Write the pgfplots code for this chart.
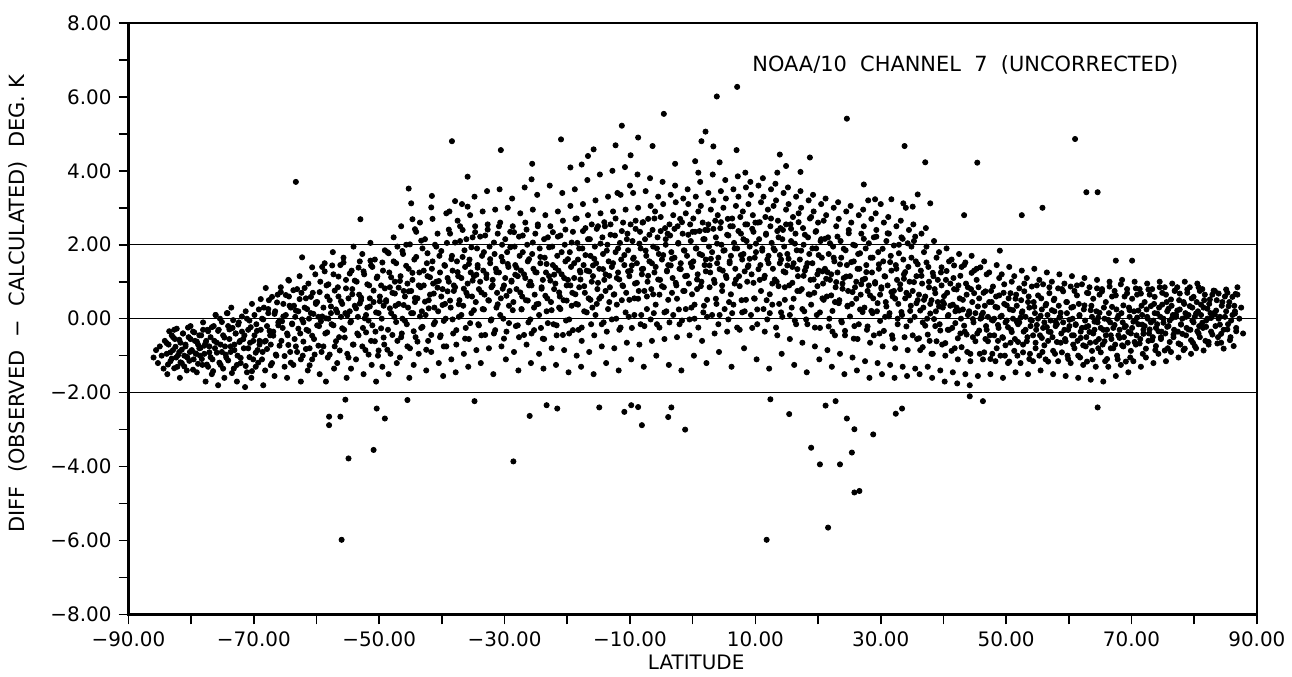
\documentclass[border=0pt]{standalone}
\usepackage{fontspec}
\setmainfont{DejaVu Sans}
\usepackage{pgfplots}
\pgfplotsset{compat=1.18}
\begin{document}
\begin{tikzpicture}
\begin{axis}[
    scale only axis,
    width=566.5pt, height=297pt,
    xmin=-90, xmax=90, ymin=-8, ymax=8,
    xtick={-90,-70,...,90},
    xticklabels={−90.00,−70.00,−50.00,−30.00,−10.00,10.00,30.00,50.00,70.00,90.00},
    minor xtick={-80,-60,...,80},
    ytick={-8,-6,...,8},
    yticklabels={−8.00,−6.00,−4.00,−2.00,0.00,2.00,4.00,6.00,8.00},
    minor ytick={-7,-5,...,7},
    tick align=outside, tick pos=left,
    major tick length=5pt, minor tick length=5pt,
    every tick/.style={black, line width=0.8pt},
    axis line style={line width=1.2pt},
    tick label style={font=\fontsize{10}{12}\selectfont},
]
\addplot[black, line width=0.6pt] coordinates {(-90,2) (90,2)};
\addplot[black, line width=0.6pt] coordinates {(-90,0) (90,0)};
\addplot[black, line width=0.6pt] coordinates {(-90,-2) (90,-2)};
% main cloud, first pass
\addplot[only marks, mark=*, mark size=1.3pt, black] coordinates {
(-86.0,-1.05) (-85.6,-0.85) (-85.3,-1.2)
(-85.0,-0.75) (-84.7,-1.0) (-84.4,-1.35) (-84.2,-0.6)
(-83.9,-0.95) (-83.6,-0.7) (-83.3,-1.15) (-83.1,-0.45) (-83.8,-1.5)
(-82.9,-0.85) (-82.6,-0.55) (-82.4,-1.05) (-82.2,-1.3) (-82.7,-0.3)
(-81.9,-0.9) (-81.7,-0.65) (-81.5,-1.2) (-81.3,-0.4) (-81.1,-1.0) (-81.8,-1.6)
(-80.9,-0.75) (-80.6,-1.05) (-80.4,-0.5) (-80.2,-0.9) (-80.7,-1.4) (-80.1,-0.2)
(-79.9,-0.85) (-79.6,-1.1) (-79.4,-0.6) (-79.2,-0.95) (-79.7,-0.35) (-79.1,-1.45)
(-78.9,-0.7) (-78.6,-1.0) (-78.4,-0.45) (-78.2,-1.25) (-78.7,-0.8) (-78.1,-0.1)
(-77.9,-0.95) (-77.6,-0.6) (-77.3,-1.3) (-77.1,-0.75) (-77.7,-1.7) (-77.4,-0.3)
(-76.9,-0.5) (-76.6,-1.1) (-76.4,-0.2) (-76.2,-0.8) (-76.7,-1.5) (-76.1,0.1)
(-75.9,-0.65) (-75.6,-0.3) (-75.3,-1.25) (-75.1,-0.9) (-75.7,-1.8) (-75.4,0.0)
(-74.9,-0.45) (-74.6,-0.75) (-74.4,-1.05) (-74.2,0.15) (-74.7,-1.6) (-74.1,-0.2)
(-73.9,-0.55) (-73.7,-0.9) (-73.4,-0.25) (-73.2,-1.35) (-73.6,0.3) (-73.1,-0.7)
(-72.9,-0.4) (-72.6,-1.0) (-72.4,-0.1) (-72.2,-0.6) (-72.7,-1.7) (-72.1,-1.2)
(-71.9,-0.35) (-71.6,-0.8) (-71.3,0.2) (-71.1,-1.45) (-71.7,-0.55) (-71.4,-1.85)
(-70.9,-0.3) (-70.6,-0.65) (-70.3,0.4) (-70.1,-1.1) (-70.7,-0.05) (-70.4,-1.6)
(-69.9,-0.45) (-69.6,-0.15) (-69.4,-0.85) (-69.2,0.25) (-69.7,-1.3) (-69.1,-0.6)
(-68.9,-0.3) (-68.6,-0.9) (-68.4,0.3) (-68.2,-1.4) (-68.7,0.0) (-68.1,-0.6) (-68.5,-1.8)
(-67.9,-0.2) (-67.6,0.5) (-67.3,-0.7) (-67.1,-1.2) (-67.7,0.15) (-67.4,-0.45)
(-66.9,-0.35) (-66.6,0.2) (-66.4,-1.0) (-66.2,0.65) (-66.7,-1.55) (-66.1,-0.1)
(-65.9,-0.05) (-65.6,-0.6) (-65.3,0.4) (-65.1,-1.3) (-65.7,0.85) (-65.4,-0.25)
(-64.9,0.1) (-64.6,-0.45) (-64.4,0.6) (-64.2,-0.9) (-64.7,-1.6) (-64.1,0.3) (-64.5,1.05)
(-63.9,-0.15) (-63.6,0.35) (-63.3,-0.75) (-63.1,0.8) (-63.7,-1.25) (-63.4,0.05)
(-62.9,0.2) (-62.6,-0.4) (-62.4,0.7) (-62.2,-1.0) (-62.7,1.15) (-62.1,-0.1) (-62.5,-1.7)
(-61.9,0.3) (-61.6,-0.3) (-61.3,0.95) (-61.1,-0.8) (-61.7,0.55) (-61.4,-1.4) (-61.2,0.0)
(-60.9,0.15) (-60.6,0.7) (-60.4,-0.55) (-60.2,1.2) (-60.7,-1.1) (-60.1,0.4)
(-59.9,0.45) (-59.6,-0.2) (-59.4,1.0) (-59.2,-0.9) (-59.7,0.05) (-59.1,1.4) (-59.5,-1.5)
(-58.9,0.3) (-58.6,-0.4) (-58.4,0.9) (-58.2,-1.05) (-58.7,1.5) (-58.1,0.0) (-58.5,-1.7) (-58.3,0.6)
(-57.9,0.5) (-57.6,-0.15) (-57.3,1.2) (-57.1,-0.75) (-57.7,0.15) (-57.4,1.8) (-57.2,-1.35)
(-56.9,0.25) (-56.6,0.85) (-56.4,-0.5) (-56.2,1.45) (-56.7,-1.2) (-56.1,0.05) (-56.5,0.6)
(-55.9,0.4) (-55.6,-0.3) (-55.3,1.05) (-55.1,-0.95) (-55.7,1.65) (-55.4,0.15) (-55.2,-1.6)
(-54.9,0.55) (-54.6,-0.1) (-54.4,1.3) (-54.2,-0.7) (-54.7,0.2) (-54.1,1.95) (-54.5,-1.35) (-54.3,0.8)
(-53.9,0.35) (-53.6,1.0) (-53.3,-0.45) (-53.1,1.55) (-53.7,-1.1) (-53.4,0.05) (-53.2,0.65)
(-52.9,0.5) (-52.6,-0.25) (-52.4,1.2) (-52.2,-0.85) (-52.7,1.75) (-52.1,0.1) (-52.5,-1.5)
(-51.9,0.3) (-51.6,0.9) (-51.3,-0.6) (-51.1,1.4) (-51.7,-0.05) (-51.4,2.05) (-51.2,-1.25) (-51.5,0.55)
(-50.9,0.45) (-50.6,-0.35) (-50.4,1.1) (-50.2,-1.0) (-50.7,1.6) (-50.1,0.15) (-50.5,-1.7)
(-49.9,0.6) (-49.6,0.0) (-49.4,1.3) (-49.2,-0.7) (-49.7,0.9) (-49.1,1.85) (-49.5,-1.3) (-49.3,0.35)
(-48.9,0.5) (-48.6,-0.3) (-48.4,1.25) (-48.2,-0.95) (-48.7,1.8) (-48.1,0.15) (-48.5,-1.5) (-48.3,0.85)
(-47.9,0.7) (-47.6,0.05) (-47.3,1.5) (-47.1,-0.6) (-47.7,2.2) (-47.4,0.35) (-47.2,-1.2) (-47.5,1.0)
(-46.9,0.4) (-46.6,1.15) (-46.4,-0.4) (-46.2,1.75) (-46.7,-1.05) (-46.1,0.75) (-46.5,2.5) (-46.3,0.0)
(-45.9,0.6) (-45.6,-0.15) (-45.3,1.35) (-45.1,-0.8) (-45.7,2.0) (-45.4,0.3) (-45.2,-1.6) (-45.5,0.95)
(-44.9,0.75) (-44.6,0.15) (-44.4,1.6) (-44.2,-0.5) (-44.7,1.05) (-44.1,2.35) (-44.5,-1.25) (-44.3,0.45)
(-43.9,0.55) (-43.6,1.25) (-43.3,-0.25) (-43.1,1.9) (-43.7,-0.95) (-43.4,0.85) (-43.2,0.2) (-43.5,2.6)
(-42.9,0.9) (-42.6,0.1) (-42.4,1.5) (-42.2,-0.6) (-42.7,2.15) (-42.1,0.5) (-42.5,-1.4) (-42.3,1.15)
(-41.9,0.65) (-41.6,1.35) (-41.3,-0.15) (-41.1,2.0) (-41.7,-0.9) (-41.4,0.95) (-41.2,0.3) (-41.5,2.7)
(-40.9,1.0) (-40.6,0.2) (-40.4,1.7) (-40.2,-0.45) (-40.7,2.3) (-40.1,0.6) (-40.5,-1.2) (-40.3,1.25)
(-39.9,0.8) (-39.6,1.45) (-39.4,0.0) (-39.2,2.05) (-39.7,-0.75) (-39.1,1.1) (-39.5,0.4) (-39.3,2.85) (-39.8,-1.55)
(-38.9,1.0) (-38.6,0.3) (-38.4,1.7) (-38.2,-0.4) (-38.7,2.3) (-38.1,0.75) (-38.5,-1.1) (-38.3,1.3) (-38.8,2.9)
(-37.9,0.85) (-37.6,1.55) (-37.3,0.05) (-37.1,2.1) (-37.7,-0.7) (-37.4,1.15) (-37.2,0.5) (-37.5,2.65) (-37.8,-1.45)
(-36.9,1.1) (-36.6,0.35) (-36.4,1.85) (-36.2,-0.25) (-36.7,2.4) (-36.1,0.7) (-36.5,-0.95) (-36.3,1.4) (-36.8,3.1)
(-35.9,0.95) (-35.6,1.6) (-35.3,0.15) (-35.1,2.2) (-35.7,-0.55) (-35.4,1.25) (-35.2,0.6) (-35.5,2.8) (-35.8,-1.3)
(-34.9,1.15) (-34.6,0.45) (-34.4,1.9) (-34.2,-0.15) (-34.7,2.5) (-34.1,0.8) (-34.5,-0.85) (-34.3,1.45) (-34.8,3.3)
(-33.9,1.0) (-33.6,1.7) (-33.3,0.25) (-33.1,2.25) (-33.7,-0.45) (-33.4,1.3) (-33.2,0.65) (-33.5,2.9) (-33.8,-1.2)
(-32.9,1.2) (-32.6,0.5) (-32.4,1.95) (-32.2,-0.05) (-32.7,2.55) (-32.1,0.85) (-32.5,-0.8) (-32.3,1.5) (-32.8,3.45)
(-31.9,1.05) (-31.6,1.75) (-31.3,0.3) (-31.1,2.3) (-31.7,-0.4) (-31.4,1.35) (-31.2,0.7) (-31.5,2.95) (-31.8,-1.5)
(-30.9,1.25) (-30.6,0.55) (-30.4,2.0) (-30.2,0.0) (-30.7,2.6) (-30.1,0.9) (-30.5,-0.75) (-30.3,1.55) (-30.8,3.5)
(-29.9,1.1) (-29.6,1.8) (-29.3,0.35) (-29.1,2.35) (-29.7,-0.35) (-29.4,1.4) (-29.2,0.75) (-29.5,3.0) (-29.8,-1.1)
(-28.9,1.0) (-28.6,0.45) (-28.4,1.95) (-28.2,-0.2) (-28.7,2.5) (-28.1,0.8) (-28.5,-0.9) (-28.3,1.45) (-28.8,3.25)
(-27.9,1.15) (-27.6,1.7) (-27.3,0.25) (-27.1,2.25) (-27.7,-0.5) (-27.4,1.3) (-27.2,0.6) (-27.5,2.85) (-27.8,-1.4)
(-26.9,1.2) (-26.6,0.5) (-26.4,2.0) (-26.2,-0.1) (-26.7,2.6) (-26.1,0.9) (-26.5,-0.7) (-26.3,1.55) (-26.8,3.55)
(-25.9,1.0) (-25.6,1.75) (-25.3,0.3) (-25.1,2.3) (-25.7,-0.4) (-25.4,1.35) (-25.2,0.65) (-25.5,2.95) (-25.8,-1.2)
(-24.9,1.25) (-24.6,0.4) (-24.4,1.9) (-24.2,-0.25) (-24.7,2.55) (-24.1,0.85) (-24.5,-0.95) (-24.3,1.5) (-24.8,3.35)
(-23.9,1.05) (-23.6,1.65) (-23.3,0.2) (-23.1,2.2) (-23.7,-0.55) (-23.4,1.25) (-23.2,0.55) (-23.5,2.8) (-23.8,-1.35)
(-22.9,1.15) (-22.6,0.45) (-22.4,1.95) (-22.2,-0.15) (-22.7,2.5) (-22.1,0.8) (-22.5,-0.8) (-22.3,1.45) (-22.8,3.6)
(-21.9,0.95) (-21.6,1.7) (-21.3,0.3) (-21.1,2.25) (-21.7,-0.45) (-21.4,1.3) (-21.2,0.6) (-21.5,2.9) (-21.8,-1.25)
(-20.9,1.2) (-20.6,0.5) (-20.4,2.0) (-20.2,-0.05) (-20.7,2.65) (-20.1,0.9) (-20.5,-0.85) (-20.3,1.55) (-20.8,3.4)
(-19.9,1.05) (-19.6,1.8) (-19.3,0.35) (-19.1,2.35) (-19.7,-0.4) (-19.4,1.4) (-19.2,0.7) (-19.5,3.05) (-19.8,-1.45)
(-18.9,1.1) (-18.6,0.4) (-18.4,2.05) (-18.2,-0.3) (-18.7,2.7) (-18.1,0.85) (-18.5,-1.0) (-18.3,1.6) (-18.8,3.5) (-18.0,1.3)
(-17.9,1.25) (-17.6,1.9) (-17.3,0.2) (-17.1,2.45) (-17.7,-0.6) (-17.4,1.45) (-17.2,0.7) (-17.5,3.1) (-17.8,-1.3)
(-16.9,1.3) (-16.6,0.55) (-16.4,2.15) (-16.2,-0.15) (-16.7,2.8) (-16.1,1.0) (-16.5,-0.9) (-16.3,1.7) (-16.8,3.75) (-16.0,0.3)
(-15.9,1.15) (-15.6,1.95) (-15.3,0.4) (-15.1,2.5) (-15.7,-0.45) (-15.4,1.5) (-15.2,0.8) (-15.5,3.2) (-15.8,-1.5)
(-14.9,1.35) (-14.6,0.6) (-14.4,2.2) (-14.2,-0.1) (-14.7,2.85) (-14.1,1.05) (-14.5,-0.75) (-14.3,1.75) (-14.8,3.9) (-14.0,2.5)
(-13.9,1.2) (-13.6,2.0) (-13.3,0.45) (-13.1,2.55) (-13.7,-0.35) (-13.4,1.55) (-13.2,0.85) (-13.5,3.3) (-13.8,-1.2)
(-12.9,1.4) (-12.6,0.65) (-12.4,2.25) (-12.2,0.0) (-12.7,2.9) (-12.1,1.1) (-12.5,-0.8) (-12.3,1.8) (-12.8,4.0) (-12.0,3.4)
(-11.9,1.25) (-11.6,2.05) (-11.3,0.5) (-11.1,2.6) (-11.7,-0.3) (-11.4,1.6) (-11.2,0.9) (-11.5,3.35) (-11.8,-1.4)
(-10.9,1.45) (-10.6,0.7) (-10.4,2.3) (-10.2,0.05) (-10.7,2.95) (-10.1,1.15) (-10.5,-0.65) (-10.3,1.85) (-10.8,4.1) (-10.0,3.6)
(-9.9,1.3) (-9.6,2.1) (-9.3,0.55) (-9.1,2.65) (-9.7,-0.25) (-9.4,1.65) (-9.2,0.95) (-9.5,3.4) (-9.8,-1.1)
(-8.9,1.5) (-8.6,0.75) (-8.4,2.35) (-8.2,0.1) (-8.7,3.0) (-8.1,1.2) (-8.5,-0.7) (-8.3,1.9) (-8.8,3.9) (-8.0,2.6)
(-7.9,1.35) (-7.6,2.15) (-7.3,0.6) (-7.1,2.7) (-7.7,-0.2) (-7.4,1.7) (-7.2,1.0) (-7.5,3.45) (-7.8,-1.3)
(-6.9,1.55) (-6.6,0.8) (-6.4,2.4) (-6.2,0.15) (-6.7,3.05) (-6.1,1.25) (-6.5,-0.6) (-6.3,1.95) (-6.8,3.8) (-6.0,2.9)
(-5.9,1.4) (-5.6,2.2) (-5.3,0.65) (-5.1,2.75) (-5.7,-0.15) (-5.4,1.75) (-5.2,1.05) (-5.5,3.3) (-5.8,-1.0)
(-4.9,1.6) (-4.6,0.85) (-4.4,2.45) (-4.2,0.2) (-4.7,3.1) (-4.1,1.3) (-4.5,-0.55) (-4.3,2.0) (-4.8,3.7) (-4.0,2.3)
(-3.9,1.45) (-3.6,2.25) (-3.3,0.7) (-3.1,2.8) (-3.7,-0.1) (-3.4,1.8) (-3.2,1.1) (-3.5,3.35) (-3.8,-1.25)
(-2.9,1.65) (-2.6,0.9) (-2.4,2.5) (-2.2,0.25) (-2.7,3.15) (-2.1,1.35) (-2.5,-0.5) (-2.3,2.05) (-2.8,3.6) (-2.0,2.7)
(-1.9,1.5) (-1.6,2.3) (-1.3,0.75) (-1.1,2.85) (-1.7,-0.05) (-1.4,1.85) (-1.2,1.15) (-1.5,3.25) (-1.8,-1.4)
(-0.9,1.7) (-0.6,0.95) (-0.4,2.55) (-0.2,0.3) (-0.7,3.1) (-0.1,1.4) (-0.5,-0.45) (-0.3,2.1) (-0.8,3.5) (0.0,2.35)
(0.1,1.55) (0.4,2.35) (0.7,0.8) (0.9,2.9) (0.3,0.0) (0.6,1.9) (0.8,1.2) (0.5,3.3) (0.2,-1.0)
(1.1,1.75) (1.4,1.0) (1.6,2.6) (1.8,0.35) (1.3,3.05) (1.9,1.45) (1.5,-0.6) (1.7,2.15) (1.2,3.7) (2.0,2.4)
(2.1,1.6) (2.4,2.4) (2.7,0.85) (2.9,2.95) (2.3,0.05) (2.6,1.95) (2.8,1.25) (2.5,3.4) (2.2,-1.2)
(3.1,1.8) (3.4,1.05) (3.6,2.65) (3.8,0.4) (3.3,3.2) (3.9,1.5) (3.5,-0.4) (3.7,2.2) (3.2,3.9) (4.0,2.8)
(4.1,1.65) (4.4,2.45) (4.7,0.9) (4.9,3.0) (4.3,0.1) (4.6,2.0) (4.8,1.3) (4.5,3.45) (4.2,-0.9)
(5.1,1.85) (5.4,1.1) (5.6,2.7) (5.8,0.45) (5.3,3.25) (5.9,1.55) (5.5,-0.35) (5.7,2.25) (5.2,3.75) (6.0,2.5)
(6.1,1.7) (6.4,2.5) (6.7,0.95) (6.9,3.05) (6.3,0.15) (6.6,2.05) (6.8,1.35) (6.5,3.5) (6.2,-1.3)
(7.1,1.9) (7.4,1.15) (7.6,2.75) (7.8,0.5) (7.3,3.3) (7.9,1.6) (7.5,-0.3) (7.7,2.3) (7.2,3.85) (8.0,2.9)
(8.1,1.75) (8.4,2.55) (8.7,1.0) (8.9,3.1) (8.3,0.2) (8.6,2.1) (8.8,1.4) (8.5,3.55) (8.2,-0.8)
(9.1,1.95) (9.4,1.2) (9.6,2.8) (9.8,0.55) (9.3,3.35) (9.9,1.65) (9.5,-0.25) (9.7,2.35) (9.2,3.7) (10.0,2.6)
(10.1,1.8) (10.4,2.6) (10.7,1.05) (10.9,3.15) (10.3,0.25) (10.6,2.15) (10.8,1.45) (10.5,3.6) (10.2,-1.1)
(11.1,1.9) (11.4,1.1) (11.6,2.75) (11.8,0.5) (11.3,3.3) (11.9,1.6) (11.5,-0.35) (11.7,2.3) (11.2,3.8) (12.0,2.95)
(12.1,1.7) (12.4,2.5) (12.7,0.95) (12.9,3.05) (12.3,0.15) (12.6,2.05) (12.8,1.35) (12.5,3.5) (12.2,-1.35)
(13.1,1.85) (13.4,1.0) (13.6,2.65) (13.8,0.4) (13.3,3.2) (13.9,1.5) (13.5,-0.45) (13.7,2.2) (13.2,3.65) (14.0,2.45)
(14.1,1.6) (14.4,2.4) (14.7,0.85) (14.9,2.95) (14.3,0.05) (14.6,1.95) (14.8,1.25) (14.5,3.4) (14.2,-0.95)
(15.1,1.75) (15.4,0.9) (15.6,2.55) (15.8,0.3) (15.3,3.1) (15.9,1.4) (15.5,-0.55) (15.7,2.1) (15.2,3.55) (16.0,2.75)
(16.1,1.5) (16.4,2.3) (16.7,0.75) (16.9,2.85) (16.3,-0.05) (16.6,1.85) (16.8,1.15) (16.5,3.3) (16.2,-1.25)
(17.1,1.6) (17.4,0.8) (17.6,2.45) (17.8,0.2) (17.3,3.0) (17.9,1.3) (17.5,-0.65) (17.7,2.0) (17.2,3.45)
(18.1,1.4) (18.4,2.2) (18.7,0.65) (18.9,2.75) (18.3,-0.15) (18.6,1.75) (18.8,1.05) (18.5,3.2) (18.2,-1.45)
(19.1,1.5) (19.4,0.7) (19.6,2.35) (19.8,0.1) (19.3,2.9) (19.9,1.2) (19.5,-0.75) (19.7,1.9) (19.2,3.35) (20.0,2.6)
(20.1,1.3) (20.4,2.1) (20.7,0.55) (20.9,2.65) (20.3,-0.25) (20.6,1.65) (20.8,0.95) (20.5,3.1) (20.2,-1.1)
(21.1,1.35) (21.4,0.6) (21.6,2.2) (21.8,0.0) (21.3,2.8) (21.9,1.05) (21.5,-0.85) (21.7,1.75) (21.2,3.25)
(22.1,1.2) (22.4,1.95) (22.7,0.45) (22.9,2.5) (22.3,-0.35) (22.6,1.55) (22.8,0.85) (22.5,3.0) (22.2,-1.3)
(23.1,1.25) (23.4,0.5) (23.6,2.1) (23.8,-0.1) (23.3,2.7) (23.9,0.95) (23.5,-0.95) (23.7,1.65) (23.2,3.15)
(24.1,1.1) (24.4,1.85) (24.7,0.35) (24.9,2.4) (24.3,-0.45) (24.6,1.45) (24.8,0.75) (24.5,2.9) (24.2,-1.5)
(25.1,1.15) (25.4,0.4) (25.6,2.0) (25.8,-0.2) (25.3,2.6) (25.9,0.85) (25.5,-1.05) (25.7,1.55) (25.2,3.05)
(26.1,1.0) (26.4,1.75) (26.7,0.25) (26.9,2.3) (26.3,-0.55) (26.6,1.35) (26.8,0.65) (26.5,2.8) (26.2,-1.4)
(27.1,1.05) (27.4,0.3) (27.6,1.9) (27.8,-0.3) (27.3,2.5) (27.9,0.75) (27.5,-1.15) (27.7,1.45) (27.2,2.95) (28.0,3.2)
(28.1,0.9) (28.4,1.65) (28.7,0.15) (28.9,2.2) (28.3,-0.65) (28.6,1.25) (28.8,0.55) (28.5,2.7) (28.2,-1.6)
(29.1,0.95) (29.4,0.2) (29.6,1.8) (29.8,-0.4) (29.3,2.4) (29.9,0.65) (29.5,-1.2) (29.7,1.35) (29.2,2.85) (30.0,3.1)
(30.1,0.85) (30.4,1.55) (30.7,0.05) (30.9,2.1) (30.3,-0.75) (30.6,1.15) (30.8,0.45) (30.5,2.6) (30.2,-1.5)
(31.1,0.9) (31.4,0.15) (31.6,1.7) (31.8,-0.45) (31.3,2.3) (31.9,0.6) (31.5,-1.25) (31.7,1.3) (31.2,2.75)
(32.1,0.75) (32.4,1.45) (32.7,0.0) (32.9,2.0) (32.3,-0.8) (32.6,1.05) (32.8,0.4) (32.5,2.5) (32.2,-1.6)
(33.1,0.8) (33.4,0.1) (33.6,1.6) (33.8,-0.5) (33.3,2.2) (33.9,0.55) (33.5,-1.3) (33.7,1.2) (33.2,2.65) (34.0,3.0)
(34.1,0.7) (34.4,1.4) (34.7,-0.05) (34.9,1.95) (34.3,-0.85) (34.6,1.0) (34.8,0.35) (34.5,2.4) (34.2,-1.55)
(35.1,0.75) (35.4,0.05) (35.6,1.55) (35.8,-0.55) (35.3,2.1) (35.9,0.5) (35.5,-1.35) (35.7,1.15) (35.2,2.55)
(36.1,0.65) (36.4,1.3) (36.7,-0.1) (36.9,1.8) (36.3,-0.85) (36.6,0.95) (36.8,0.3) (36.5,2.3) (36.2,-1.5)
(37.1,0.6) (37.4,0.0) (37.6,1.4) (37.8,-0.6) (37.3,1.95) (37.9,0.4) (37.5,-1.3) (37.7,1.0) (37.2,2.45)
(38.1,0.5) (38.4,1.15) (38.7,-0.2) (38.9,1.65) (38.3,-0.95) (38.6,0.8) (38.8,0.2) (38.5,2.1) (38.2,-1.6)
(39.1,0.45) (39.4,-0.15) (39.6,1.25) (39.8,-0.7) (39.3,1.8) (39.9,0.3) (39.5,-1.4) (39.7,0.9)
(40.1,0.4) (40.4,1.05) (40.7,-0.3) (40.9,1.55) (40.3,-1.0) (40.6,0.7) (40.8,0.1) (40.5,1.9) (40.2,-1.7)
(41.1,0.35) (41.4,-0.25) (41.6,1.1) (41.8,-0.8) (41.3,1.6) (41.9,0.2) (41.5,-1.45) (41.7,0.8)
(42.1,0.3) (42.4,0.9) (42.7,-0.4) (42.9,1.4) (42.3,-1.1) (42.6,0.55) (42.8,0.0) (42.5,1.75) (42.2,-1.75)
(43.1,0.25) (43.4,-0.35) (43.6,0.95) (43.8,-0.9) (43.3,1.45) (43.9,0.1) (43.5,-1.5) (43.7,0.65)
(44.1,0.2) (44.4,0.8) (44.7,-0.5) (44.9,1.3) (44.3,-1.15) (44.6,0.45) (44.8,-0.1) (44.5,1.7) (44.2,-1.8)
(45.1,0.15) (45.4,-0.4) (45.6,0.85) (45.8,-0.95) (45.3,1.35) (45.9,0.0) (45.5,-1.55) (45.7,0.55)
(46.1,0.1) (46.4,0.7) (46.7,-0.55) (46.9,1.2) (46.3,-1.1) (46.6,0.35) (46.8,-0.2) (46.5,1.55)
(47.1,0.05) (47.4,-0.45) (47.6,0.75) (47.8,-0.95) (47.3,1.25) (47.9,-0.05) (47.5,-1.5) (47.7,0.45)
(48.1,0.0) (48.4,0.6) (48.7,-0.6) (48.9,1.1) (48.3,-1.15) (48.6,0.3) (48.8,-0.25) (48.5,1.45)
(49.1,0.05) (49.4,-0.5) (49.6,0.7) (49.8,-1.0) (49.3,1.2) (49.9,-0.1) (49.5,-1.6) (49.7,0.4)
(50.1,-0.05) (50.4,0.55) (50.7,-0.65) (50.9,1.0) (50.3,-1.2) (50.6,0.25) (50.8,-0.3) (50.5,1.4)
(51.1,0.0) (51.4,-0.55) (51.6,0.65) (51.8,-1.0) (51.3,1.15) (51.9,-0.15) (51.5,-1.45) (51.7,0.35)
(52.1,-0.1) (52.4,0.5) (52.7,-0.7) (52.9,0.95) (52.3,-1.2) (52.6,0.2) (52.8,-0.35) (52.5,1.3)
(53.1,0.05) (53.4,-0.5) (53.6,0.6) (53.8,-0.95) (53.3,1.1) (53.9,-0.2) (53.5,-1.5) (53.7,0.3)
(54.1,-0.05) (54.4,0.45) (54.7,-0.65) (54.9,0.9) (54.3,-1.15) (54.6,0.15) (54.8,-0.3) (54.5,1.35)
(55.1,0.0) (55.4,-0.45) (55.6,0.55) (55.8,-0.9) (55.3,1.05) (55.9,-0.25) (55.5,-1.4) (55.7,0.25)
(56.1,-0.1) (56.4,0.4) (56.7,-0.6) (56.9,0.85) (56.3,-1.1) (56.6,0.1) (56.8,-0.35) (56.5,1.25)
(57.1,-0.05) (57.4,-0.5) (57.6,0.5) (57.8,-0.95) (57.3,1.0) (57.9,-0.2) (57.5,-1.5) (57.7,0.2)
(58.1,-0.15) (58.4,0.35) (58.7,-0.65) (58.9,0.8) (58.3,-1.15) (58.6,0.05) (58.8,-0.4) (58.5,1.2)
(59.1,-0.1) (59.4,-0.55) (59.6,0.45) (59.8,-1.0) (59.3,0.95) (59.9,-0.3) (59.5,-1.55) (59.7,0.15)
(60.1,-0.2) (60.4,0.3) (60.7,-0.7) (60.9,0.75) (60.3,-1.2) (60.6,0.0) (60.8,-0.45) (60.5,1.15)
(61.1,-0.15) (61.4,-0.6) (61.6,0.4) (61.8,-1.05) (61.3,0.9) (61.9,-0.35) (61.5,-1.6) (61.7,0.1)
(62.1,-0.25) (62.4,0.25) (62.7,-0.75) (62.9,0.7) (62.3,-1.25) (62.6,-0.05) (62.8,-0.5) (62.5,1.1)
(63.1,-0.2) (63.4,-0.65) (63.6,0.35) (63.8,-1.1) (63.3,0.85) (63.9,-0.4) (63.5,-1.65) (63.7,0.05)
(64.1,-0.3) (64.4,0.2) (64.7,-0.8) (64.9,0.65) (64.3,-1.3) (64.6,-0.1) (64.8,-0.55) (64.5,1.05)
(65.1,-0.25) (65.4,-0.7) (65.6,0.3) (65.8,-1.15) (65.3,0.8) (65.9,-0.45) (65.5,-1.7) (65.7,0.0)
(66.1,-0.3) (66.4,0.15) (66.7,-0.8) (66.9,0.6) (66.3,-1.3) (66.6,-0.1) (66.8,-0.55) (66.5,1.0)
(67.1,-0.25) (67.4,-0.7) (67.6,0.25) (67.8,-1.1) (67.3,0.75) (67.9,-0.45) (67.5,-1.55) (67.7,0.0)
(68.1,-0.3) (68.4,0.15) (68.7,-0.75) (68.9,0.6) (68.3,-1.25) (68.6,-0.1) (68.8,-0.5) (68.5,1.05)
(69.1,-0.2) (69.4,-0.65) (69.6,0.3) (69.8,-1.05) (69.3,0.8) (69.9,-0.4) (69.5,-1.45) (69.7,0.05)
(70.1,-0.25) (70.4,0.2) (70.7,-0.7) (70.9,0.65) (70.3,-1.15) (70.6,-0.05) (70.8,-0.45) (70.5,1.0)
(71.1,-0.15) (71.4,-0.55) (71.6,0.35) (71.8,-0.95) (71.3,0.8) (71.9,-0.3) (71.5,-1.3) (71.7,0.1)
(72.1,-0.2) (72.4,0.25) (72.7,-0.6) (72.9,0.65) (72.3,-1.05) (72.6,0.0) (72.8,-0.4) (72.5,0.95)
(73.1,-0.1) (73.4,-0.5) (73.6,0.4) (73.8,-0.85) (73.3,0.8) (73.9,-0.25) (73.5,-1.2) (73.7,0.15)
(74.1,-0.15) (74.4,0.3) (74.7,-0.55) (74.9,0.7) (74.3,-0.95) (74.6,0.05) (74.8,-0.35) (74.5,1.0)
(75.1,0.0) (75.4,-0.4) (75.6,0.45) (75.8,-0.8) (75.3,0.85) (75.9,-0.2) (75.5,-1.15) (75.7,0.2)
(76.1,-0.05) (76.4,0.35) (76.7,-0.5) (76.9,0.75) (76.3,-0.9) (76.6,0.1) (76.8,-0.3) (76.5,0.95)
(77.1,0.05) (77.4,-0.35) (77.6,0.5) (77.8,-0.7) (77.3,0.85) (77.9,-0.15) (77.5,-1.05) (77.7,0.25)
(78.1,0.0) (78.4,0.4) (78.7,-0.45) (78.9,0.7) (78.3,-0.85) (78.6,0.15) (78.8,-0.25) (78.5,1.0)
(79.1,0.1) (79.4,-0.3) (79.6,0.55) (79.8,-0.65) (79.3,0.85) (79.9,-0.1) (79.5,-0.95) (79.7,0.3)
(80.1,0.05) (80.4,0.45) (80.7,-0.4) (80.9,0.75) (80.3,-0.8) (80.6,0.2) (80.8,-0.2) (80.5,0.95)
(81.1,0.1) (81.4,-0.25) (81.6,0.5) (81.8,-0.6) (81.3,0.8) (81.9,-0.05) (81.5,0.3)
(82.1,0.0) (82.4,0.4) (82.7,-0.35) (82.9,0.65) (82.3,-0.7) (82.6,0.15)
(83.1,0.15) (83.4,-0.2) (83.6,0.5) (83.8,-0.5) (83.3,0.75) (83.9,0.0)
(84.1,0.05) (84.4,0.35) (84.7,-0.3) (84.9,0.6) (84.3,-0.65)
(85.1,0.2) (85.4,-0.15) (85.6,0.45) (85.8,-0.5) (85.3,0.7)
(86.1,0.1) (86.4,0.35) (86.7,-0.25) (86.9,0.65) (86.5,0.2)
(87.2,0.0) (87.5,0.3) (87.8,-0.4)
};
% main cloud, second pass (fills the dense core)
\addplot[only marks, mark=*, mark size=1.3pt, black] coordinates {
(-83.9,-0.66) (-83.7,-1.24) (-83.5,-0.34) (-83.3,-0.91) (-83.1,-1.08)
(-82.9,-0.50) (-82.7,-1.34) (-82.5,-0.76) (-82.3,-0.27) (-82.1,-0.99)
(-81.9,-0.57) (-81.7,-1.18) (-81.5,-0.84) (-81.3,-0.40) (-81.1,-1.29)
(-80.9,-0.70) (-80.7,-1.03) (-80.5,-0.24) (-80.3,-1.14) (-80.1,-0.55)
(-79.9,-0.87) (-79.7,-1.38) (-79.5,-0.37) (-79.3,-0.94) (-79.1,-0.62)
(-78.9,-1.22) (-78.7,-0.45) (-78.5,-0.79) (-78.3,-1.09) (-78.1,-0.30)
(-77.9,-0.73) (-77.7,-0.66) (-77.5,-1.24) (-77.3,-0.34) (-77.1,-0.91)
(-76.9,-1.04) (-76.7,-0.23) (-76.5,-1.42) (-76.3,-0.60) (-76.1,0.10)
(-75.9,-0.92) (-75.7,-0.33) (-75.5,-1.19) (-75.3,-0.70) (-75.1,-0.09)
(-74.9,-1.35) (-74.7,-0.51) (-74.5,-0.97) (-74.3,0.15) (-74.1,-1.13)
(-73.9,-0.29) (-73.7,-0.75) (-73.5,-1.47) (-73.3,-0.04) (-73.1,-0.85)
(-72.9,-0.40) (-72.7,-1.25) (-72.5,-0.16) (-72.3,-0.63) (-72.1,-1.06)
(-71.9,0.06) (-71.7,-0.55) (-71.5,-0.45) (-71.3,-1.28) (-71.1,0.00)
(-70.9,-0.80) (-70.7,-1.04) (-70.5,-0.23) (-70.3,-1.42) (-70.1,-0.60)
(-69.9,0.10) (-69.7,-0.92) (-69.5,-0.33) (-69.3,-1.19) (-69.1,-0.70)
(-68.9,0.53) (-68.7,-1.10) (-68.5,-0.02) (-68.3,-0.62) (-68.1,0.83)
(-67.9,-0.82) (-67.7,0.26) (-67.5,-0.33) (-67.3,-1.26) (-67.1,0.59)
(-66.9,-0.46) (-66.7,0.13) (-66.5,-0.97) (-66.3,0.44) (-66.1,-0.18)
(-65.9,-0.73) (-65.7,0.72) (-65.5,-0.07) (-65.3,0.06) (-65.1,-1.01)
(-64.9,0.64) (-64.7,-0.40) (-64.5,-0.71) (-64.3,0.35) (-64.1,-1.19)
(-63.9,-0.13) (-63.7,0.77) (-63.5,-0.55) (-63.3,0.22) (-63.1,-0.90)
(-62.9,-0.27) (-62.7,0.53) (-62.5,-1.10) (-62.3,-0.02) (-62.1,-0.62)
(-61.9,0.83) (-61.7,-0.82) (-61.5,0.26) (-61.3,-0.33) (-61.1,-1.26)
(-60.9,0.59) (-60.7,-0.46) (-60.5,0.13) (-60.3,-0.97) (-60.1,0.44)
(-59.9,-0.18) (-59.7,-0.73) (-59.5,0.72) (-59.3,-0.07) (-59.1,0.06)
(-58.9,-0.75) (-58.7,1.28) (-58.5,0.01) (-58.3,-0.37) (-58.1,0.93)
(-57.9,-0.97) (-57.7,0.33) (-57.5,1.44) (-57.3,-0.18) (-57.1,0.76)
(-56.9,-0.61) (-56.7,0.17) (-56.5,1.14) (-56.3,-0.86) (-56.1,0.47)
(-55.9,-0.26) (-55.7,1.52) (-55.5,-0.51) (-55.3,0.82) (-55.1,0.09)
(-54.9,-1.05) (-54.7,1.22) (-54.5,-0.07) (-54.3,0.66) (-54.1,-0.70)
(-53.9,1.03) (-53.7,0.28) (-53.5,-0.40) (-53.3,1.38) (-53.1,0.41)
(-52.9,0.57) (-52.7,-0.75) (-52.5,1.28) (-52.3,0.01) (-52.1,-0.37)
(-51.9,0.93) (-51.7,-0.97) (-51.5,0.33) (-51.3,1.44) (-51.1,-0.18)
(-50.9,0.76) (-50.7,-0.61) (-50.5,0.17) (-50.3,1.14) (-50.1,-0.86)
(-49.9,0.47) (-49.7,-0.26) (-49.5,1.52) (-49.3,-0.51) (-49.1,0.82)
(-48.9,0.46) (-48.7,-0.84) (-48.5,1.77) (-48.3,0.28) (-48.1,1.12)
(-47.9,-0.44) (-47.7,1.55) (-47.5,0.68) (-47.3,-0.09) (-47.1,1.95)
(-46.9,0.84) (-46.7,1.02) (-46.5,-0.50) (-46.3,1.83) (-46.1,0.37)
(-45.9,-0.06) (-45.7,1.43) (-45.5,-0.75) (-45.3,0.74) (-45.1,2.01)
(-44.9,0.15) (-44.7,1.24) (-44.5,-0.34) (-44.3,0.56) (-44.1,1.67)
(-43.9,-0.62) (-43.7,0.90) (-43.5,0.06) (-43.3,2.11) (-43.1,-0.22)
(-42.9,1.30) (-42.7,0.46) (-42.5,-0.84) (-42.3,1.77) (-42.1,0.28)
(-41.9,1.12) (-41.7,-0.44) (-41.5,1.55) (-41.3,0.68) (-41.1,-0.09)
(-40.9,1.95) (-40.7,0.84) (-40.5,1.02) (-40.3,-0.50) (-40.1,1.83)
(-39.9,0.37) (-39.7,-0.06) (-39.5,1.43) (-39.3,-0.75) (-39.1,0.74)
(-38.9,2.41) (-38.7,0.49) (-38.5,1.61) (-38.3,-0.02) (-38.1,0.90)
(-37.9,2.06) (-37.7,-0.31) (-37.5,1.26) (-37.3,0.39) (-37.1,2.50)
(-36.9,0.10) (-36.7,1.67) (-36.5,0.81) (-36.3,-0.54) (-36.1,2.15)
(-35.9,0.62) (-35.7,1.48) (-35.5,-0.12) (-35.3,1.93) (-35.1,1.03)
(-34.9,0.23) (-34.7,2.34) (-34.5,1.19) (-34.3,1.38) (-34.1,-0.18)
(-33.9,2.22) (-33.7,0.71) (-33.5,0.26) (-33.3,1.80) (-33.1,-0.44)
(-32.9,1.10) (-32.7,2.41) (-32.5,0.49) (-32.3,1.61) (-32.1,-0.02)
(-31.9,0.90) (-31.7,2.06) (-31.5,-0.31) (-31.3,1.26) (-31.1,0.39)
(-30.9,2.50) (-30.7,0.10) (-30.5,1.67) (-30.3,0.81) (-30.1,-0.54)
(-29.9,2.15) (-29.7,0.62) (-29.5,1.48) (-29.3,-0.12) (-29.1,1.93)
(-28.9,1.03) (-28.7,0.23) (-28.5,2.34) (-28.3,1.19) (-28.1,1.38)
(-27.9,-0.18) (-27.7,2.22) (-27.5,0.71) (-27.3,0.26) (-27.1,1.80)
(-26.9,-0.44) (-26.7,1.10) (-26.5,2.41) (-26.3,0.49) (-26.1,1.61)
(-25.9,-0.02) (-25.7,0.90) (-25.5,2.06) (-25.3,-0.31) (-25.1,1.26)
(-24.9,0.39) (-24.7,2.50) (-24.5,0.10) (-24.3,1.67) (-24.1,0.81)
(-23.9,-0.54) (-23.7,2.15) (-23.5,0.62) (-23.3,1.48) (-23.1,-0.12)
(-22.9,1.93) (-22.7,1.03) (-22.5,0.23) (-22.3,2.34) (-22.1,1.19)
(-21.9,1.38) (-21.7,-0.18) (-21.5,2.22) (-21.3,0.71) (-21.1,0.26)
(-20.9,1.80) (-20.7,-0.44) (-20.5,1.10) (-20.3,2.41) (-20.1,0.49)
(-19.9,1.61) (-19.7,-0.02) (-19.5,0.90) (-19.3,2.06) (-19.1,-0.31)
(-18.9,1.50) (-18.7,0.66) (-18.5,2.71) (-18.3,0.38) (-18.1,1.90)
(-17.9,1.06) (-17.7,-0.24) (-17.5,2.37) (-17.3,0.88) (-17.1,1.72)
(-16.9,0.17) (-16.7,2.15) (-16.5,1.28) (-16.3,0.51) (-16.1,2.55)
(-15.9,1.44) (-15.7,1.62) (-15.5,0.10) (-15.3,2.43) (-15.1,0.97)
(-14.9,0.54) (-14.7,2.03) (-14.5,-0.15) (-14.3,1.34) (-14.1,2.61)
(-13.9,0.75) (-13.7,1.84) (-13.5,0.26) (-13.3,1.16) (-13.1,2.27)
(-12.9,-0.02) (-12.7,1.50) (-12.5,0.66) (-12.3,2.71) (-12.1,0.38)
(-11.9,1.90) (-11.7,1.06) (-11.5,-0.24) (-11.3,2.37) (-11.1,0.88)
(-10.9,1.72) (-10.7,0.17) (-10.5,2.15) (-10.3,1.28) (-10.1,0.51)
(-9.9,2.55) (-9.7,1.44) (-9.5,1.62) (-9.3,0.10) (-9.1,2.43)
(-8.9,0.97) (-8.7,0.54) (-8.5,2.03) (-8.3,-0.15) (-8.1,1.34)
(-7.9,2.61) (-7.7,0.75) (-7.5,1.84) (-7.3,0.26) (-7.1,1.16)
(-6.9,2.27) (-6.7,-0.02) (-6.5,1.50) (-6.3,0.66) (-6.1,2.71)
(-5.9,0.38) (-5.7,1.90) (-5.5,1.06) (-5.3,-0.24) (-5.1,2.37)
(-4.9,0.88) (-4.7,1.72) (-4.5,0.17) (-4.3,2.15) (-4.1,1.28)
(-3.9,0.51) (-3.7,2.55) (-3.5,1.44) (-3.3,1.62) (-3.1,0.10)
(-2.9,2.43) (-2.7,0.97) (-2.5,0.54) (-2.3,2.03) (-2.1,-0.15)
(-1.9,1.34) (-1.7,2.61) (-1.5,0.75) (-1.3,1.84) (-1.1,0.26)
(-0.9,1.16) (-0.7,2.27) (-0.5,-0.02) (-0.3,1.50) (-0.1,0.66)
(0.1,2.71) (0.3,0.38) (0.5,1.90) (0.7,1.06) (0.9,-0.24)
(1.1,2.37) (1.3,0.88) (1.5,1.72) (1.7,0.17) (1.9,2.15)
(2.1,1.28) (2.3,0.51) (2.5,2.55) (2.7,1.44) (2.9,1.62)
(3.1,0.10) (3.3,2.43) (3.5,0.97) (3.7,0.54) (3.9,2.03)
(4.1,-0.15) (4.3,1.34) (4.5,2.61) (4.7,0.75) (4.9,1.84)
(5.1,0.26) (5.3,1.16) (5.5,2.27) (5.7,-0.02) (5.9,1.50)
(6.1,0.66) (6.3,2.71) (6.5,0.38) (6.7,1.90) (6.9,1.06)
(7.1,-0.24) (7.3,2.37) (7.5,0.88) (7.7,1.72) (7.9,0.17)
(8.1,2.15) (8.3,1.28) (8.5,0.51) (8.7,2.55) (8.9,1.44)
(9.1,1.62) (9.3,0.10) (9.5,2.43) (9.7,0.97) (9.9,0.54)
(10.1,2.03) (10.3,-0.15) (10.5,1.34) (10.7,2.61) (10.9,0.75)
(11.1,1.84) (11.3,0.26) (11.5,1.16) (11.7,2.27) (11.9,-0.02)
(12.1,1.50) (12.3,0.66) (12.5,2.71) (12.7,0.38) (12.9,1.90)
(13.1,1.06) (13.3,-0.24) (13.5,2.37) (13.7,0.88) (13.9,1.72)
(14.1,0.17) (14.3,2.15) (14.5,1.28) (14.7,0.51) (14.9,2.55)
(15.1,1.44) (15.3,1.62) (15.5,0.10) (15.7,2.43) (15.9,0.97)
(16.1,0.54) (16.3,2.03) (16.5,-0.15) (16.7,1.34) (16.9,2.61)
(17.1,0.75) (17.3,1.84) (17.5,0.26) (17.7,1.16) (17.9,2.27)
(18.1,-0.02) (18.3,1.50) (18.5,0.66) (18.7,2.71) (18.9,0.38)
(19.1,1.90) (19.3,1.06) (19.5,-0.24) (19.7,2.37) (19.9,0.88)
(20.1,1.72) (20.3,0.17) (20.5,2.15) (20.7,1.28) (20.9,0.51)
(21.1,2.16) (21.3,1.08) (21.5,1.26) (21.7,-0.21) (21.9,2.04)
(22.1,0.63) (22.3,0.21) (22.5,1.65) (22.7,-0.45) (22.9,0.99)
(23.1,2.22) (23.3,0.42) (23.5,1.47) (23.7,-0.06) (23.9,0.81)
(24.1,1.89) (24.3,-0.33) (24.5,1.14) (24.7,0.33) (24.9,2.31)
(25.1,0.06) (25.3,1.53) (25.5,0.72) (25.7,-0.54) (25.9,1.98)
(26.1,0.54) (26.3,1.35) (26.5,-0.15) (26.7,1.77) (26.9,0.93)
(27.1,0.18) (27.3,2.16) (27.5,1.08) (27.7,1.26) (27.9,-0.21)
(28.1,2.04) (28.3,0.63) (28.5,0.21) (28.7,1.65) (28.9,-0.45)
(29.1,0.99) (29.3,2.22) (29.5,0.42) (29.7,1.47) (29.9,-0.06)
(30.1,0.81) (30.3,1.89) (30.5,-0.33) (30.7,1.14) (30.9,0.33)
(31.1,2.31) (31.3,0.06) (31.5,1.53) (31.7,0.72) (31.9,-0.54)
(32.1,1.98) (32.3,0.54) (32.5,1.35) (32.7,-0.15) (32.9,1.77)
(33.1,0.93) (33.3,0.18) (33.5,2.16) (33.7,1.08) (33.9,1.26)
(34.1,-0.21) (34.3,2.04) (34.5,0.63) (34.7,0.21) (34.9,1.65)
(35.1,-0.45) (35.3,0.99) (35.5,2.22) (35.7,0.42) (35.9,1.47)
(36.1,-0.53) (36.3,0.22) (36.5,1.16) (36.7,-0.77) (36.9,0.51)
(37.1,-0.19) (37.3,1.52) (37.5,-0.43) (37.7,0.85) (37.9,0.14)
(38.1,-0.95) (38.3,1.24) (38.5,-0.01) (38.7,0.69) (38.9,-0.61)
(39.1,1.05) (39.3,0.33) (39.5,-0.32) (39.7,1.39) (39.9,0.46)
(40.1,0.61) (40.3,-0.66) (40.5,1.29) (40.7,0.07) (40.9,-0.30)
(41.1,0.95) (41.3,-0.87) (41.5,0.38) (41.7,1.44) (41.9,-0.12)
(42.1,0.79) (42.3,-0.53) (42.5,0.22) (42.7,1.16) (42.9,-0.77)
(43.1,0.51) (43.3,-0.19) (43.5,1.52) (43.7,-0.43) (43.9,0.85)
(44.1,0.14) (44.3,-0.95) (44.5,1.24) (44.7,-0.01) (44.9,0.69)
(45.1,-0.61) (45.3,1.05) (45.5,0.33) (45.7,-0.32) (45.9,1.39)
(46.1,0.03) (46.3,0.16) (46.5,-0.91) (46.7,0.74) (46.9,-0.30)
(47.1,-0.61) (47.3,0.45) (47.5,-1.09) (47.7,-0.03) (47.9,0.87)
(48.1,-0.45) (48.3,0.32) (48.5,-0.80) (48.7,-0.17) (48.9,0.63)
(49.1,-1.00) (49.3,0.08) (49.5,-0.52) (49.7,0.93) (49.9,-0.72)
(50.1,0.36) (50.3,-0.23) (50.5,-1.16) (50.7,0.69) (50.9,-0.36)
(51.1,0.23) (51.3,-0.87) (51.5,0.54) (51.7,-0.08) (51.9,-0.63)
(52.1,0.82) (52.3,0.03) (52.5,0.16) (52.7,-0.91) (52.9,0.74)
(53.1,-0.30) (53.3,-0.61) (53.5,0.45) (53.7,-1.09) (53.9,-0.03)
(54.1,0.87) (54.3,-0.45) (54.5,0.32) (54.7,-0.80) (54.9,-0.17)
(55.1,0.63) (55.3,-1.00) (55.5,0.08) (55.7,-0.52) (55.9,0.93)
(56.1,-0.72) (56.3,0.36) (56.5,-0.23) (56.7,-1.16) (56.9,0.69)
(57.1,-0.36) (57.3,0.23) (57.5,-0.87) (57.7,0.54) (57.9,-0.08)
(58.1,-0.63) (58.3,0.82) (58.5,0.03) (58.7,0.16) (58.9,-0.91)
(59.1,0.74) (59.3,-0.30) (59.5,-0.61) (59.7,0.45) (59.9,-1.09)
(60.1,-0.03) (60.3,0.87) (60.5,-0.45) (60.7,0.32) (60.9,-0.80)
(61.1,-0.17) (61.3,0.63) (61.5,-1.00) (61.7,0.08) (61.9,-0.52)
(62.1,0.93) (62.3,-0.72) (62.5,0.36) (62.7,-0.23) (62.9,-1.16)
(63.1,0.69) (63.3,-0.36) (63.5,0.23) (63.7,-0.87) (63.9,0.54)
(64.1,-0.08) (64.3,-0.63) (64.5,0.82) (64.7,0.03) (64.9,0.16)
(65.1,-0.91) (65.3,0.74) (65.5,-0.30) (65.7,-0.61) (65.9,0.45)
(66.1,-1.09) (66.3,-0.03) (66.5,0.87) (66.7,-0.45) (66.9,0.32)
(67.1,-0.80) (67.3,-0.17) (67.5,0.63) (67.7,-1.00) (67.9,0.08)
(68.1,-0.52) (68.3,0.93) (68.5,-0.72) (68.7,0.36) (68.9,-0.23)
(69.1,-1.16) (69.3,0.69) (69.5,-0.36) (69.7,0.23) (69.9,-0.87)
(70.1,0.54) (70.3,-0.08) (70.5,-0.63) (70.7,0.82) (70.9,0.03)
(71.1,0.22) (71.3,-0.67) (71.5,0.68) (71.7,-0.16) (71.9,-0.41)
(72.1,0.45) (72.3,-0.81) (72.5,0.05) (72.7,0.79) (72.9,-0.29)
(73.1,0.34) (73.3,-0.58) (73.5,-0.05) (73.7,0.59) (73.9,-0.74)
(74.1,0.14) (74.3,-0.34) (74.5,0.85) (74.7,-0.50) (74.9,0.38)
(75.1,-0.11) (75.3,-0.86) (75.5,0.65) (75.7,-0.22) (75.9,0.27)
(76.1,-0.63) (76.3,0.52) (76.5,0.02) (76.7,-0.43) (76.9,0.76)
(77.1,0.11) (77.3,0.22) (77.5,-0.67) (77.7,0.68) (77.9,-0.16)
(78.1,-0.41) (78.3,0.45) (78.5,-0.81) (78.7,0.05) (78.9,0.79)
(79.1,-0.29) (79.3,0.34) (79.5,-0.58) (79.7,-0.05) (79.9,0.59)
(80.1,-0.74) (80.3,0.14) (80.5,-0.34) (80.7,0.85) (80.9,-0.50)
(81.1,0.38) (81.3,-0.11) (81.5,-0.86) (81.7,0.65) (81.9,-0.22)
(82.1,0.27) (82.3,-0.63) (82.5,0.52) (82.7,0.02) (82.9,-0.43)
(83.1,0.76) (83.3,0.11) (83.5,0.22) (83.7,-0.67) (83.9,0.68)
(84.1,-0.16) (84.3,-0.41) (84.5,0.45) (84.7,-0.81) (84.9,0.05)
(85.1,0.79) (85.3,-0.29) (85.5,0.34) (85.7,-0.58) (85.9,-0.05)
(86.1,0.59) (86.3,-0.74) (86.5,0.14) (86.7,-0.34) (86.9,0.85)
};
% scattered points away from the main band
\addplot[only marks, mark=*, mark size=1.3pt, black] coordinates {
(-63.3,3.7) (-62.3,1.66) (-60.7,1.39) (-64.4,1.03) (-53.0,2.69) (-51.4,1.57)
(-45.3,3.52) (-44.9,3.12) (-44.7,2.69) (-44.3,2.42) (-41.6,3.32) (-41.7,3.01)
(-38.4,4.8) (-37.9,3.18) (-35.9,3.84) (-35.9,3.03) (-30.6,4.56) (-25.6,4.19)
(-25.7,3.77) (-21.0,4.85) (-19.5,4.09) (-17.7,4.17) (-16.7,4.40) (-15.8,4.58)
(-12.3,4.69) (-11.3,5.22) (-9.9,4.42) (-8.7,4.90) (-6.4,4.67) (-4.6,5.54)
(-2.8,4.19) (0.4,4.26) (0.9,3.95) (1.4,4.80) (2.05,5.06) (3.3,4.66) (3.85,6.01)
(4.3,4.23) (7.0,4.56) (7.1,6.27) (8.4,3.95) (13.5,3.95) (13.9,4.44) (14.9,4.13)
(17.2,3.97) (18.7,4.36) (24.6,5.41) (27.3,3.63) (29.1,3.23) (31.7,3.23)
(33.6,3.12) (35.1,3.03) (35.9,3.36) (37.9,3.12) (33.8,4.67) (37.1,4.23)
(45.4,4.22) (61.0,4.86) (62.8,3.42) (64.6,3.42) (55.8,3.0) (52.5,2.8) (43.3,2.8)
(49.0,1.84) (67.5,1.57) (70.1,1.57) (86.6,0.67)
(-58.0,-2.65) (-58.0,-2.88) (-56.2,-2.65) (-55.4,-2.19) (-54.9,-3.78)
(-56.0,-5.98) (-50.9,-3.55) (-50.4,-2.43) (-49.1,-2.70) (-45.5,-2.2)
(-34.8,-2.23) (-26.0,-2.63) (-23.3,-2.34) (-21.6,-2.43) (-28.6,-3.86)
(-14.9,-2.40) (-9.8,-2.34) (-8.7,-2.39) (-10.9,-2.52) (-8.1,-2.88)
(-3.9,-2.66) (-3.4,-2.40) (-1.2,-3.0) (12.4,-2.18) (15.4,-2.58) (18.9,-3.49)
(20.3,-3.94) (23.5,-3.94) (25.4,-3.62) (25.8,-4.70) (26.6,-4.66) (21.6,-5.65)
(11.8,-5.98) (21.2,-2.35) (22.8,-2.23) (24.6,-2.70) (25.8,-2.99) (28.8,-3.13)
(32.4,-2.57) (33.4,-2.43) (46.3,-2.23) (44.2,-2.1) (64.6,-2.40)
};
\node[anchor=west, font=\fontsize{10.5}{12}\selectfont] at (axis cs:8.4,6.87)
    {NOAA/10\ \ CHANNEL\ \ 7\ \ (UNCORRECTED)};
\end{axis}
\node[rotate=90, font=\fontsize{10.5}{12}\selectfont] at (-55.5pt,156pt)
    {DIFF\ \ (OBSERVED\ \ −\ \ CALCULATED)\ \ DEG.\ K};
\node[font=\fontsize{10}{12}\selectfont] at (285pt,-24pt) {LATITUDE};
\path (-64.5pt,-28.5pt) rectangle (581.5pt,308.5pt);
\end{tikzpicture}
\end{document}
